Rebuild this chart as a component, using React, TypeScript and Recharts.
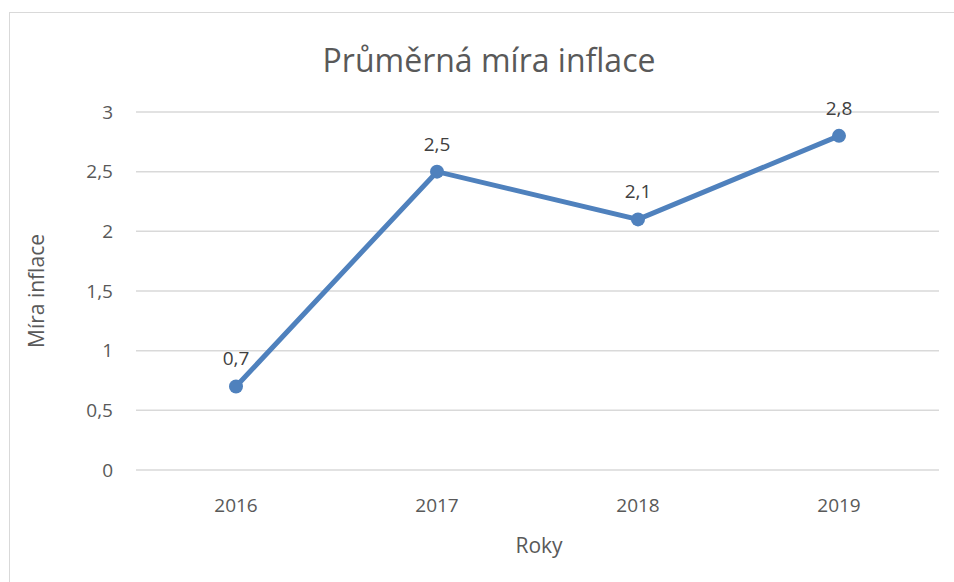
import { LineChart, Line, XAxis, YAxis, CartesianGrid, LabelList } from 'recharts'

const years = ['2016', '2017', '2018', '2019']
const inflation = [0.7, 2.5, 2.1, 2.8]
const yTicks = [0, 0.5, 1, 1.5, 2, 2.5, 3]

const data = years.map((y, i) => ({ year: y, value: inflation[i] }))

const FONT = '"Open Sans", "Noto Sans", sans-serif'
const TEXT = '#595959'
const fmt = (v: number) => String(v).replace('.', ',')

export default function App() {
  return (
    <div style={{ position: 'absolute', left: 0, top: 0, width: 954, height: 582, background: '#fff', fontFamily: FONT, overflow: 'hidden' }}>
      {/* outer chart border */}
      <div style={{ position: 'absolute', left: 9, top: 12, width: 950, height: 600, border: '1.5px solid #d9d9d9' }} />

      <div style={{ position: 'absolute', left: 0, top: 38, width: 978, textAlign: 'center', fontSize: 32, color: TEXT }}>
        Průměrná míra inflace
      </div>

      <div style={{ position: 'absolute', left: 36, top: 291, transform: 'translate(-50%, -50%) rotate(-90deg)', fontSize: 21, color: TEXT, whiteSpace: 'nowrap' }}>
        Míra inflace
      </div>

      <div style={{ position: 'absolute', left: 539, top: 545, transform: 'translate(-50%, -50%)', fontSize: 21, color: TEXT }}>
        Roky
      </div>

      <div style={{ position: 'absolute', left: 0, top: 0 }}>
        <LineChart width={954} height={582} data={data} margin={{ top: 112, right: 15, bottom: 82, left: 0 }}>
          <CartesianGrid vertical={false} stroke="#d9d9d9" strokeWidth={1.5} />
          <XAxis
            dataKey="year"
            axisLine={false}
            tickLine={false}
            tickMargin={23}
            height={30}
            padding={{ left: 100, right: 100 }}
            tick={{ fill: TEXT, fontSize: 19, fontFamily: FONT }}
          />
          <YAxis
            width={136}
            domain={[0, 3]}
            ticks={yTicks}
            axisLine={false}
            tickLine={false}
            tickMargin={17}
            tickFormatter={fmt}
            tick={{ fill: TEXT, fontSize: 19, fontFamily: FONT }}
          />
          <Line
            dataKey="value"
            stroke="#4f81bd"
            strokeWidth={5}
            dot={{ r: 7, fill: '#4f81bd', stroke: '#4f81bd', strokeWidth: 0 }}
            isAnimationActive={false}
          >
            <LabelList
              dataKey="value"
              position="top"
              offset={21}
              formatter={(v: any) => fmt(v)}
              style={{ fill: '#404040', fontSize: 19, fontFamily: FONT }}
            />
          </Line>
        </LineChart>
      </div>
    </div>
  )
}
